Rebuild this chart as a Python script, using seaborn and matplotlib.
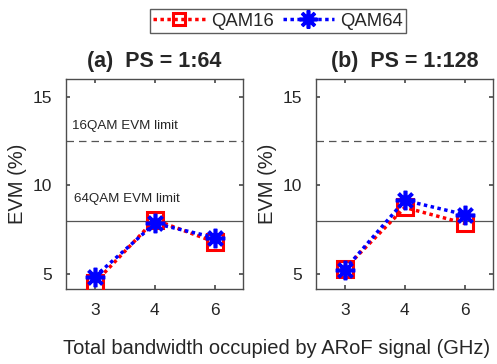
import numpy as np
import pandas as pd
import matplotlib.pyplot as plt
import seaborn as sns
from matplotlib.lines import Line2D

bandwidth = ["3", "4", "6"]
qam16_a = [4.5, 8.05, 6.8]
qam64_a = [4.85, 7.85, 7.05]
qam16_b = [5.3, 8.75, 7.85]
qam64_b = [5.25, 9.15, 8.35]
titles = ["(a)  PS = 1:64", "(b)  PS = 1:128"]
limit_16qam = 12.5
limit_64qam = 8.0

sns.set_theme(style="white")
plt.rcParams["font.family"] = ["Liberation Sans", "DejaVu Sans"]

AX_COLOR = "#4d4d4d"
TXT = "#262626"
ASTERISK = (8, 2, 0)
fig = plt.figure(figsize=(4.97, 3.64), dpi=100)
axes = [fig.add_axes([66 / 497, 75 / 364, 177 / 497, 210 / 364]),
        fig.add_axes([316 / 497, 75 / 364, 177 / 497, 210 / 364])]

pos = np.arange(len(bandwidth))
panels = [(qam16_a, qam64_a), (qam16_b, qam64_b)]

for i, (ax, (q16, q64)) in enumerate(zip(axes, panels)):
    ax.axhline(limit_16qam, color="#555555", lw=0.9, ls=(0, (6, 4)), zorder=1)
    ax.axhline(limit_64qam, color="#555555", lw=0.9, zorder=1)
    df = pd.DataFrame({"x": pos, "q16": q16, "q64": q64})
    sns.lineplot(data=df, x="x", y="q16", ax=ax, color="red", lw=2.5,
                 linestyle=(0, (1, 1)), marker="s", markersize=11,
                 markerfacecolor="none", markeredgecolor="red",
                 markeredgewidth=2.2, zorder=3)
    sns.lineplot(data=df, x="x", y="q64", ax=ax, color="blue", lw=2.5,
                 linestyle=(0, (1, 1)), marker=ASTERISK, markersize=14,
                 markeredgecolor="blue", markeredgewidth=2.6, zorder=4)
    ax.set_xlim(-0.48, 2.47)
    ax.set_ylim(4.15, 16)
    ax.set_xticks(pos)
    ax.set_xticklabels(bandwidth)
    ax.set_yticks([5, 10, 15])
    ax.set_xlabel("")
    ax.set_ylabel("EVM (%)", fontsize=14.5, color=TXT, labelpad=4)
    ax.set_title(titles[i], fontsize=15.5, fontweight="bold", pad=9)
    ax.tick_params(direction="in", length=3, color=AX_COLOR, top=True,
                   right=True, bottom=True, left=True, labelsize=12.5,
                   labelcolor=TXT, pad=10)
    for s in ax.spines.values():
        s.set_color(AX_COLOR)
        s.set_linewidth(1.0)
    if i == 0:
        ax.text(-0.38, 13.2, "16QAM EVM limit", fontsize=9.6, color=TXT)
        ax.text(-0.35, 9.05, "64QAM EVM limit", fontsize=9.6, color=TXT)

fig.text(0.557, 0.028, "Total bandwidth occupied by ARoF signal (GHz)",
         ha="center", fontsize=14.5, color=TXT)

handles = [Line2D([], [], color="red", lw=2.5, ls=(0, (1, 1)), marker="s",
                  markersize=9, markerfacecolor="none", markeredgewidth=2.2),
           Line2D([], [], color="blue", lw=2.5, ls=(0, (1, 1)), marker=ASTERISK,
                  markersize=13, markeredgewidth=2.6)]
leg = fig.legend(handles, ["QAM16", "QAM64"], loc="center",
                 bbox_to_anchor=(278 / 497, 1 - 21 / 364), ncol=2,
                 fontsize=13.3, frameon=True, fancybox=False, handlelength=2.8,
                 columnspacing=0.5, handletextpad=0.3, borderpad=0.2)
leg.get_frame().set_edgecolor("#333333")
leg.get_frame().set_linewidth(1.0)

fig.savefig("out.png", dpi=100)
